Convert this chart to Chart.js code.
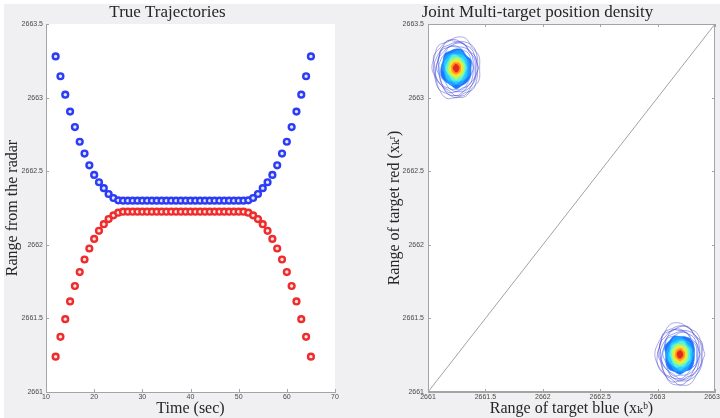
<!DOCTYPE html>
<html lang="en">
<head>
<meta charset="UTF-8" />
<title>True trajectories / joint density</title>
<style>
  html, body { margin: 0; padding: 0; background: #fff; }
  .frame { position: relative; width: 720px; height: 418px; overflow: hidden; }
  .backdrop { position: absolute; left: 4px; top: 4px; right: 0; bottom: 0; background: #f0f0f2; }
  .panel { position: absolute; top: 0; width: 360px; height: 418px; }
  #left { left: 0; }
  #right { left: 360px; }
</style>
<script src="https://cdn.jsdelivr.net/npm/chart.js"></script>
</head>
<body>
<div class="frame">
  <div class="backdrop"></div>
  <div class="panel" id="left"><canvas id="traj" width="360" height="418"></canvas></div>
  <div class="panel" id="right"><canvas id="density" width="360" height="418"></canvas></div>
</div>
<script>
  // --- data ---
  const timeSec = [12, 13, 14, 15, 16, 17, 18, 19, 20, 21, 22, 23, 24, 25, 26, 27, 28, 29, 30,
    31, 32, 33, 34, 35, 36, 37, 38, 39, 40, 41, 42, 43, 44, 45, 46, 47, 48, 49, 50,
    51, 52, 53, 54, 55, 56, 57, 58, 59, 60, 61, 62, 63, 64, 65];

  const rangeBlue = [2663.28, 2663.145, 2663.02, 2662.905, 2662.80, 2662.70, 2662.62, 2662.54,
    2662.475, 2662.425, 2662.385, 2662.345, 2662.318, 2662.302,
    2662.30, 2662.30, 2662.30, 2662.30, 2662.30, 2662.30, 2662.30, 2662.30, 2662.30, 2662.30,
    2662.30, 2662.30, 2662.30, 2662.30, 2662.30, 2662.30, 2662.30, 2662.30, 2662.30, 2662.30,
    2662.30, 2662.30, 2662.30, 2662.30, 2662.30, 2662.30,
    2662.302, 2662.318, 2662.345, 2662.385, 2662.425, 2662.475, 2662.54, 2662.62,
    2662.70, 2662.80, 2662.905, 2663.02, 2663.145, 2663.28];

  const rangeRed = [2661.24, 2661.375, 2661.495, 2661.615, 2661.72, 2661.815, 2661.90, 2661.975,
    2662.04, 2662.095, 2662.14, 2662.175, 2662.20, 2662.218,
    2662.225, 2662.225, 2662.225, 2662.225, 2662.225, 2662.225, 2662.225, 2662.225, 2662.225, 2662.225,
    2662.225, 2662.225, 2662.225, 2662.225, 2662.225, 2662.225, 2662.225, 2662.225, 2662.225, 2662.225,
    2662.225, 2662.225, 2662.225, 2662.225, 2662.225, 2662.225,
    2662.218, 2662.20, 2662.175, 2662.14, 2662.095, 2662.04, 2661.975, 2661.90,
    2661.815, 2661.72, 2661.615, 2661.495, 2661.375, 2661.24];

  // density modes (blue range, red range)
  const modeBlue = [2661.245, 2663.195];
  const modeRed = [2663.20, 2661.255];
  // contour levels, outermost first (radius in metres)
  const ringRadius = [0.205, 0.195, 0.185, 0.175, 0.165, 0.155, 0.145, 0.13, 0.115, 0.10, 0.085, 0.07, 0.055, 0.04, 0.025];
  // irregularity of each contour, 16 directions
  const ringShape = [
    [1.00, 1.05, 0.96, 1.07, 1.02, 0.94, 1.06, 0.99, 1.03, 0.93, 1.01, 1.08, 0.97, 1.02, 0.95, 1.05],
    [0.96, 1.02, 1.07, 0.99, 0.93, 1.03, 1.00, 1.09, 0.95, 1.01, 1.06, 0.97, 1.03, 0.94, 1.05, 1.00],
    [1.06, 0.98, 1.01, 0.94, 1.04, 1.08, 0.97, 1.00, 1.07, 0.99, 0.93, 1.03, 1.01, 1.07, 0.98, 0.95],
    [0.99, 1.07, 0.94, 1.03, 1.00, 0.97, 1.05, 0.95, 1.01, 1.06, 0.99, 0.94, 1.07, 0.98, 1.02, 1.04]
  ];
  const diagonal = [2661, 2663.5];
  const rangeTicks = [2661, 2663.5, 0.5];
  const timeTicks = [10, 70, 10];

  // --- styling ---
  const serif = "'Liberation Serif', 'DejaVu Serif', serif";
  const sans = "'Liberation Sans', 'DejaVu Sans', sans-serif";
  const ringColours = ['#5050c4', '#4444c8', '#3a3ad0', '#3232d6', '#2c34de', '#2842e6', '#2054f0',
    '#2074ff', '#20a0ff', '#26ceff', '#5cf2da', '#b4f86a', '#f8e42c', '#ff9420', '#e4281e'];
  const firstFilled = 7;

  function axis(min, max, step, o) {
    return {
      type: 'linear', min: min, max: max,
      afterFit: s => {
        if (o.width) s.width = o.width;
        if (o.height) s.height = o.height;
        s.paddingLeft = s.paddingRight = s.paddingTop = s.paddingBottom = 0;
      },
      ticks: {
        stepSize: step, autoSkip: false, maxRotation: 0, padding: o.pad,
        color: '#4a4a4a', font: { family: sans, size: 7 },
        callback: v => String(Math.round(v * 10) / 10)
      },
      grid: { drawOnChartArea: false, drawTicks: false },
      border: { color: '#a4a4a4', width: 1 },
      title: {
        display: true, text: o.title, color: '#262626',
        font: { family: serif, size: 16 }, padding: o.titlePad
      }
    };
  }

  // white plot area + inward tick marks (MATLAB look)
  const plotFrame = {
    id: 'plotFrame',
    beforeDraw(chart) {
      const { ctx, chartArea: a } = chart;
      ctx.save();
      ctx.fillStyle = '#fff';
      ctx.fillRect(a.left, a.top, a.right - a.left, a.bottom - a.top);
      ctx.restore();
    },
    afterDraw(chart, args, opts) {
      const { ctx, chartArea: a, scales: { x, y } } = chart;
      ctx.save();
      ctx.strokeStyle = '#a4a4a4';
      ctx.lineWidth = 1;
      ctx.beginPath();
      x.ticks.forEach(t => {
        const px = Math.round(x.getPixelForValue(t.value)) + 0.5;
        ctx.moveTo(px, a.bottom); ctx.lineTo(px, a.bottom - 3);
        if (opts.box) { ctx.moveTo(px, a.top); ctx.lineTo(px, a.top + 3); }
      });
      y.ticks.forEach(t => {
        const py = Math.round(y.getPixelForValue(t.value)) + 0.5;
        ctx.moveTo(a.left, py); ctx.lineTo(a.left + 3, py);
        if (opts.box) { ctx.moveTo(a.right, py); ctx.lineTo(a.right - 3, py); }
      });
      ctx.stroke();
      if (opts.box) {
        ctx.strokeRect(Math.round(a.left) + 0.5, Math.round(a.top) + 0.5,
          Math.round(a.right - a.left) - 1, Math.round(a.bottom - a.top) - 1);
      }
      ctx.restore();
    }
  };

  function titleOpts(text) {
    return {
      display: true, text: text, color: '#262626',
      font: { family: serif, size: 17, weight: 'normal' },
      padding: { top: 2, bottom: 1.6 }
    };
  }

  // --- left: true trajectories ---
  new Chart(document.getElementById('traj'), {
    type: 'scatter',
    data: {
      datasets: [
        {
          label: 'blue', data: timeSec.map((t, i) => ({ x: t, y: rangeBlue[i] })),
          pointRadius: 2.9, borderWidth: 2.4, borderColor: '#2b3cf4', backgroundColor: '#e2e4ff'
        },
        {
          label: 'red', data: timeSec.map((t, i) => ({ x: t, y: rangeRed[i] })),
          pointRadius: 2.9, borderWidth: 2.4, borderColor: '#ee2c2c', backgroundColor: '#ffe2e2'
        }
      ]
    },
    options: {
      responsive: false, animation: false,
      layout: { padding: { left: 0, right: 25, top: 0, bottom: 0 } },
      plugins: {
        legend: { display: false }, tooltip: { enabled: false },
        title: titleOpts('True Trajectories'),
        plotFrame: { box: false }
      },
      scales: {
        x: axis(timeTicks[0], timeTicks[1], timeTicks[2],
          { height: 26, pad: 1, title: 'Time (sec)', titlePad: { top: 0, bottom: 0 } }),
        y: axis(rangeTicks[0], rangeTicks[1], rangeTicks[2],
          { width: 46, pad: 3, title: 'Range from the radar', titlePad: { top: 3, bottom: 0 } })
      }
    },
    plugins: [plotFrame]
  });

  // --- right: joint density contours ---
  function ring(m, r) {
    const shape = ringShape[(r + 2 * m) % ringShape.length];
    const n = shape.length;
    const pts = [];
    for (let k = 0; k <= n; k++) {
      const i = k % n;
      const a = 2 * Math.PI * i / n;
      pts.push({
        x: modeBlue[m] + ringRadius[r] * shape[i] * Math.cos(a),
        y: modeRed[m] + ringRadius[r] * shape[i] * Math.sin(a)
      });
    }
    return pts;
  }

  const densitySets = [];
  for (let m = 0; m < modeBlue.length; m++) {
    for (let r = 0; r < ringRadius.length; r++) {
      const filled = r >= firstFilled;
      densitySets.push({
        data: ring(m, r), showLine: true, pointRadius: 0, tension: 0.4,
        borderColor: filled ? ringColours[r] : ringColours[r] + 'b0',
        borderWidth: filled ? 0.8 : 0.7,
        backgroundColor: ringColours[r],
        fill: filled ? 'shape' : false
      });
    }
  }
  densitySets.push({
    data: [{ x: diagonal[0], y: diagonal[0] }, { x: diagonal[1], y: diagonal[1] }],
    showLine: true, pointRadius: 0, borderColor: '#8a8a8a', borderWidth: 0.8, fill: false
  });
  // first dataset is painted last, so put innermost contours first
  densitySets.reverse();

  new Chart(document.getElementById('density'), {
    type: 'scatter',
    data: { datasets: densitySets },
    options: {
      responsive: false, animation: false,
      layout: { padding: { left: 0, right: 5, top: 0, bottom: 0 } },
      plugins: {
        legend: { display: false }, tooltip: { enabled: false },
        title: titleOpts('Joint Multi-target position density'),
        plotFrame: { box: true }
      },
      scales: {
        x: axis(rangeTicks[0], rangeTicks[1], rangeTicks[2],
          { height: 26, pad: 1, title: 'Range of target blue (xₖᵇ)', titlePad: { top: 0, bottom: 0 } }),
        y: axis(rangeTicks[0], rangeTicks[1], rangeTicks[2],
          { width: 68, pad: 4, title: 'Range of target red (xₖʳ)', titlePad: { top: 25, bottom: 0 } })
      }
    },
    plugins: [plotFrame]
  });
</script>
</body>
</html>
